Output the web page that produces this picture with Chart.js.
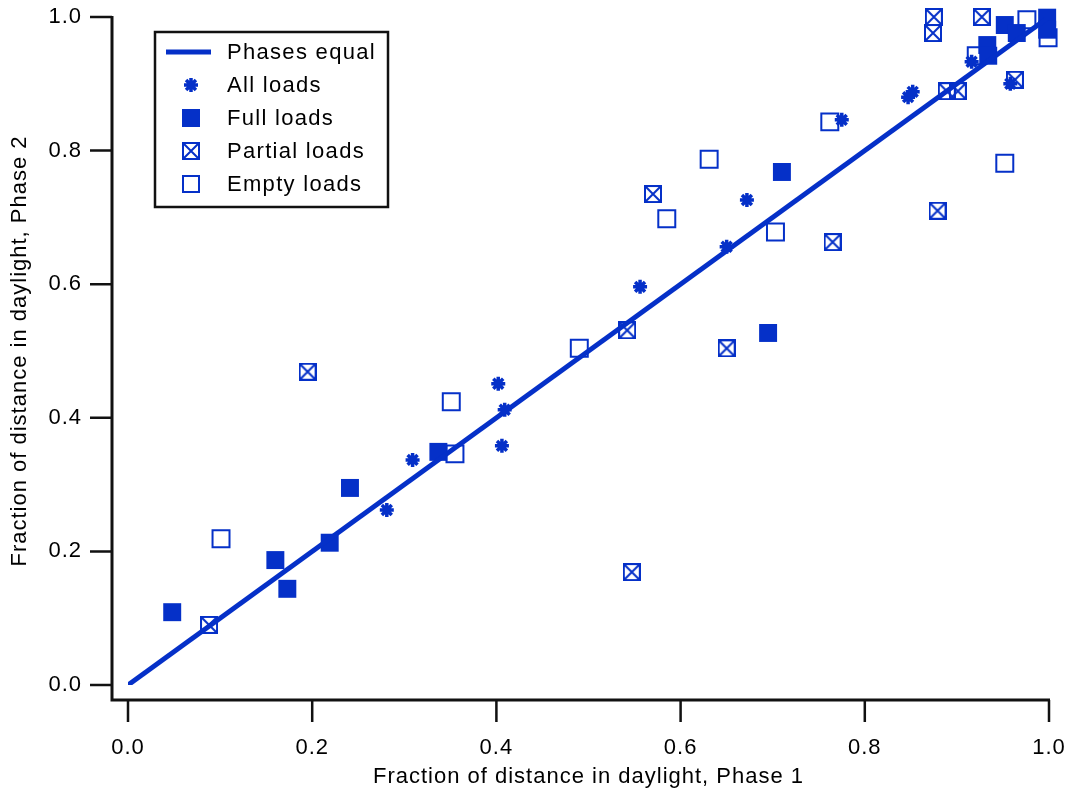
<!DOCTYPE html>
<html>
<head>
<meta charset="utf-8">
<title>Daylight fraction, Phase 1 vs Phase 2</title>
<script src="https://cdn.jsdelivr.net/npm/chart.js@4.4.0/dist/chart.umd.min.js"></script>
<style>
  html, body { margin: 0; padding: 0; background: #fff; }
  #wrap { width: 1070px; height: 793px; }
</style>
</head>
<body>
<div id="wrap"><canvas id="daylightChart"></canvas></div>
<script>
// Values (fraction of distance in daylight)
const allLoadsX = [0.309, 0.281, 0.402, 0.409, 0.406, 0.556, 0.650, 0.672, 0.775, 0.847, 0.852, 0.958, 0.916];
const allLoadsY = [0.337, 0.262, 0.451, 0.412, 0.358, 0.596, 0.656, 0.726, 0.846, 0.880, 0.888, 0.900, 0.933];

const fullLoadsX = [0.048, 0.160, 0.173, 0.219, 0.241, 0.337, 0.695, 0.710, 0.933, 0.934, 0.952, 0.965, 0.998, 0.998];
const fullLoadsY = [0.109, 0.187, 0.144, 0.213, 0.295, 0.349, 0.527, 0.768, 0.958, 0.942, 0.988, 0.976, 0.999, 0.981];

const partialLoadsX = [0.088, 0.195, 0.542, 0.570, 0.547, 0.650, 0.765, 0.879, 0.889, 0.901, 0.875, 0.874, 0.927, 0.963];
const partialLoadsY = [0.090, 0.469, 0.531, 0.735, 0.169, 0.504, 0.663, 0.710, 0.889, 0.889, 1.000, 0.976, 1.000, 0.906];

const emptyLoadsX = [0.101, 0.351, 0.355, 0.490, 0.585, 0.631, 0.703, 0.762, 0.952, 0.999, 0.976, 0.921];
const emptyLoadsY = [0.219, 0.424, 0.346, 0.504, 0.698, 0.787, 0.678, 0.843, 0.781, 0.969, 0.996, 0.942];

const equalLineX = [0, 1];
const equalLineY = [0, 1];

const tickValues = [0, 0.2, 0.4, 0.6, 0.8, 1.0];

const BLUE = '#0530c8';
const FONT = "'Liberation Sans', Arial, sans-serif";

function toPoints(xs, ys) {
    return xs.map((x, i) => ({ x: x, y: ys[i] }));
}

// Box with an X through it, used as the "Partial loads" marker
function makeCrossBox(size, color) {
    const c = document.createElement('canvas');
    c.width = size;
    c.height = size;
    const g = c.getContext('2d');
    g.strokeStyle = color;
    g.lineWidth = 2;
    g.strokeRect(1, 1, size - 2, size - 2);
    g.beginPath();
    g.moveTo(1, 1); g.lineTo(size - 1, size - 1);
    g.moveTo(size - 1, 1); g.lineTo(1, size - 1);
    g.stroke();
    return c;
}
const crossBox = makeCrossBox(18, BLUE);

// Axes sit a little away from the plot area, Igor style
const offsetAxes = {
    id: 'offsetAxes',
    beforeDraw(chart) {
        chart.ctx.letterSpacing = '1px';
    },
    afterDraw(chart) {
        const { ctx, chartArea: a, scales } = chart;
        const axX = a.left - 16;
        const axY = a.bottom + 15;
        ctx.save();
        ctx.strokeStyle = '#111';
        ctx.lineWidth = 3;
        ctx.beginPath();
        ctx.moveTo(axX, a.top - 1);
        ctx.lineTo(axX, axY);
        ctx.lineTo(a.right + 1, axY);
        ctx.stroke();

        ctx.lineWidth = 2.5;
        ctx.beginPath();
        tickValues.forEach(v => {
            const py = scales.y.getPixelForValue(v);
            ctx.moveTo(axX - 22, py);
            ctx.lineTo(axX, py);
            const px = scales.x.getPixelForValue(v);
            ctx.moveTo(px, axY);
            ctx.lineTo(px, axY + 22);
        });
        ctx.stroke();
        ctx.restore();
    }
};

// Boxed legend in the upper left of the plot
const boxLegend = {
    id: 'boxLegend',
    afterDraw(chart) {
        const { ctx, chartArea: a } = chart;
        const left = a.left + 27, top = a.top + 15;
        const w = 233, h = 175;
        ctx.save();
        ctx.fillStyle = '#fff';
        ctx.fillRect(left, top, w, h);
        ctx.strokeStyle = '#111';
        ctx.lineWidth = 2.5;
        ctx.strokeRect(left, top, w, h);

        const mx = left + 36;
        const tx = left + 72;
        ctx.font = '22px ' + FONT;
        ctx.letterSpacing = '1.3px';
        ctx.textBaseline = 'middle';
        chart.data.datasets.forEach((ds, i) => {
            const y = top + 20 + i * 33;
            ctx.strokeStyle = BLUE;
            ctx.fillStyle = BLUE;
            if (i === 0) {
                ctx.lineWidth = 5;
                ctx.beginPath();
                ctx.moveTo(left + 11, y);
                ctx.lineTo(left + 56, y);
                ctx.stroke();
            } else if (ds.pointStyle === 'star') {
                ctx.lineWidth = 3.5;
                ctx.beginPath();
                const r = 7, d = r * Math.SQRT1_2;
                ctx.moveTo(mx - r, y); ctx.lineTo(mx + r, y);
                ctx.moveTo(mx, y - r); ctx.lineTo(mx, y + r);
                ctx.moveTo(mx - d, y - d); ctx.lineTo(mx + d, y + d);
                ctx.moveTo(mx + d, y - d); ctx.lineTo(mx - d, y + d);
                ctx.stroke();
            } else if (ds.pointStyle === crossBox) {
                ctx.drawImage(crossBox, mx - 9, y - 9);
            } else if (ds.backgroundColor === BLUE) {
                ctx.fillRect(mx - 9, y - 9, 18, 18);
            } else {
                ctx.lineWidth = 2;
                ctx.strokeRect(mx - 8, y - 8, 16, 16);
            }
            ctx.fillStyle = '#000';
            ctx.fillText(ds.label, tx, y + 1);
        });
        ctx.restore();
    }
};

const axisOpts = (title, isY) => ({
    type: 'linear',
    min: 0,
    max: 1,
    afterBuildTicks: s => { s.ticks = tickValues.map(v => ({ value: v })); },
    afterFit: s => {
        // fixed plot box; the big tick padding must not add edge padding
        if (isY) {
            s.width = 128;
            s.paddingTop = 0;
            s.paddingBottom = 0;
        } else {
            s.height = 108;
            s.paddingLeft = 0;
            s.paddingRight = 0;
        }
    },
    grid: { display: false, drawTicks: false },
    border: { display: false },
    ticks: {
        color: '#000',
        padding: isY ? 46 : 50,
        font: { family: FONT, size: 22 },
        callback: v => v.toFixed(1)
    },
    title: {
        display: true,
        text: title,
        color: '#000',
        font: { family: FONT, size: 22 },
        padding: isY ? { top: 7, bottom: 0 } : { top: 0, bottom: 3 }
    }
});

new Chart(document.getElementById('daylightChart'), {
    type: 'scatter',
    data: {
        datasets: [
            {
                type: 'line',
                label: 'Phases equal',
                data: toPoints(equalLineX, equalLineY),
                borderColor: BLUE,
                borderWidth: 5,
                pointRadius: 0,
                fill: false
            },
            {
                label: 'All loads',
                data: toPoints(allLoadsX, allLoadsY),
                pointStyle: 'star',
                pointRadius: 7,
                borderColor: BLUE,
                borderWidth: 3.5,
                clip: false
            },
            {
                label: 'Full loads',
                data: toPoints(fullLoadsX, fullLoadsY),
                pointStyle: 'rect',
                pointRadius: 12.7,
                backgroundColor: BLUE,
                borderColor: BLUE,
                borderWidth: 0,
                clip: false
            },
            {
                label: 'Partial loads',
                data: toPoints(partialLoadsX, partialLoadsY),
                pointStyle: crossBox,
                borderColor: BLUE,
                clip: false
            },
            {
                label: 'Empty loads',
                data: toPoints(emptyLoadsX, emptyLoadsY),
                pointStyle: 'rect',
                pointRadius: 12,
                backgroundColor: 'rgba(0,0,0,0)',
                borderColor: BLUE,
                borderWidth: 2,
                clip: false
            }
        ]
    },
    options: {
        responsive: true,
        maintainAspectRatio: false,
        animation: false,
        devicePixelRatio: 1,
        layout: { padding: { top: 17, right: 21, left: 0, bottom: 0 } },
        scales: {
            x: axisOpts('Fraction of distance in daylight, Phase 1', false),
            y: axisOpts('Fraction of distance in daylight, Phase 2', true)
        },
        plugins: {
            legend: { display: false },
            tooltip: { enabled: false }
        }
    },
    plugins: [offsetAxes, boxLegend]
});
</script>
</body>
</html>
